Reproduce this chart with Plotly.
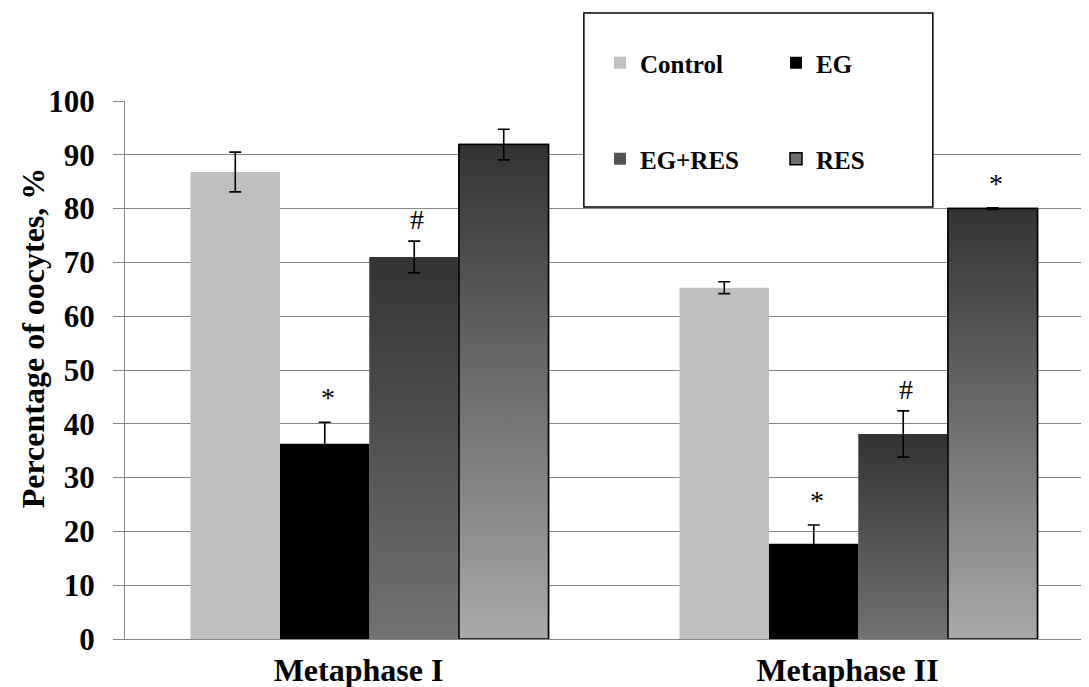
import plotly.graph_objects as go

# ---- data ----
categories = ["Metaphase I", "Metaphase II"]
series_names = ["Control", "EG", "EG+RES", "RES"]
control_vals = [86.8, 65.3]
eg_vals = [36.3, 17.7]
egres_vals = [71.0, 38.1]
res_vals = [91.9, 80.0]
control_err = [3.7, 1.1]
eg_err = [4.0, 3.5]
egres_err = [2.95, 4.3]
res_err = [2.85, 0.15]
# significance markers per series (one per category)
control_marks = ["", ""]
eg_marks = ["*", "*"]
egres_marks = ["#", "#"]
res_marks = ["", "*"]
y_ticks = [0, 10, 20, 30, 40, 50, 60, 70, 80, 90, 100]

# ---- styles ----
FONT = "Liberation Serif"
BAR_W = 0.183
GRID = "#878787"
PAGE_OFF = 8          # browser body margin
W, H = 1089 - PAGE_OFF, 687 - PAGE_OFF
styles = {
    "Control": dict(color="#c0c0c0", line=0, grad=None),
    "EG": dict(color="#000000", line=0, grad=None),
    "EG+RES": dict(color="#555555", line=0, grad=("#727272", "#333333")),
    "RES": dict(color="#6e6e6e", line=1.5, grad=("#a9a9a9", "#333333")),
}

values = [control_vals, eg_vals, egres_vals, res_vals]
errors = [control_err, eg_err, egres_err, res_err]
marks = [control_marks, eg_marks, egres_marks, res_marks]
xcat = list(range(len(categories)))

fig = go.Figure()

# bars (legend + base geometry)
for i, (name, vals) in enumerate(zip(series_names, values)):
    st = styles[name]
    fig.add_trace(go.Bar(
        x=xcat, y=vals, name=name, width=BAR_W, offset=(i - 2) * BAR_W,
        marker=dict(color=st["color"], line=dict(color="black", width=st["line"])),
        legend="legend" if i < 2 else "legend2",
        hoverinfo="skip",
    ))

# gradient overlays for shaded series
for i, (name, vals) in enumerate(zip(series_names, values)):
    st = styles[name]
    if st["grad"] is None:
        continue
    for c, v in zip(xcat, vals):
        x0 = c + (i - 2) * BAR_W
        x1 = x0 + BAR_W
        fig.add_trace(go.Scatter(
            x=[x0, x1, x1, x0, x0], y=[0, 0, v, v, 0], mode="lines",
            fill="toself",
            fillgradient=dict(type="vertical",
                              colorscale=[[0, st["grad"][0]], [1, st["grad"][1]]]),
            line=dict(color="black" if st["line"] else "rgba(0,0,0,0)",
                      width=st["line"] if st["line"] else 0.1),
            showlegend=False, hoverinfo="skip",
        ))

# error bars
for i, (name, vals, errs) in enumerate(zip(series_names, values, errors)):
    centers = [c + (i - 1.5) * BAR_W for c in xcat]
    fig.add_trace(go.Scatter(
        x=centers, y=vals, mode="markers",
        marker=dict(size=1, color="rgba(0,0,0,0)"),
        error_y=dict(type="data", array=errs, visible=True,
                     color="black", thickness=1.6, width=6),
        showlegend=False, hoverinfo="skip",
    ))

# significance marks
annotations = []
for i, (vals, errs, mk) in enumerate(zip(values, errors, marks)):
    for c, v, e, m in zip(xcat, vals, errs, mk):
        if not m:
            continue
        off = 4.5 if m == "*" else 4.0
        annotations.append(dict(
            x=c + (i - 1.5) * BAR_W, y=v + e + off, xref="x", yref="y",
            text=m, showarrow=False, xshift=3, yanchor="middle",
            font=dict(family=FONT, size=28, color="black"),
        ))

# y-axis title
annotations.append(dict(
    x=-0.0954, y=0.559, xref="paper", yref="paper",
    xanchor="center", yanchor="middle",
    text="Percentage of oocytes, %", textangle=-90, showarrow=False,
    font=dict(family=FONT, size=32, color="black", weight="bold"),
))

legend_font = dict(family=FONT, size=25, color="black", weight="bold")


def cx(px):
    return (px - PAGE_OFF) / W


def cy(py):
    return 1 - (py - PAGE_OFF) / H


fig.update_layout(
    width=W, height=H,
    font=dict(family=FONT, color="black"),
    paper_bgcolor="white", plot_bgcolor="white",
    margin=dict(l=125 - PAGE_OFF, r=0, t=101 - PAGE_OFF, b=48, autoexpand=False),
    barmode="overlay",
    annotations=annotations,
    shapes=[dict(type="rect", xref="paper", yref="paper",
                 x0=0.476, x1=0.838, y0=0.803, y1=1.1635,
                 line=dict(color="black", width=1.5), fillcolor="white",
                 layer="above")],
    legend=dict(orientation="h", xref="container", yref="container",
                x=cx(600), y=cy(63), xanchor="left", yanchor="middle",
                entrywidth=131, bgcolor="rgba(0,0,0,0)", font=legend_font),
    legend2=dict(orientation="h", xref="container", yref="container",
                 x=cx(600), y=cy(159), xanchor="left", yanchor="middle",
                 entrywidth=131, bgcolor="rgba(0,0,0,0)", font=legend_font),
    xaxis=dict(range=[-0.5, -0.5 + 964 / 489], tickvals=xcat, ticktext=categories,
               showgrid=False, zeroline=False, showline=True, linecolor=GRID,
               linewidth=1.3, ticks="", ticklabelshift=-11, ticklabelstandoff=2,
               tickfont=dict(family=FONT, size=32, color="black", weight="bold")),
    yaxis=dict(range=[0, 100], tickvals=y_ticks, showgrid=True, gridcolor=GRID,
               gridwidth=1.3, zeroline=False, showline=True, linecolor=GRID,
               linewidth=1.3, ticks="outside", ticklen=11, tickcolor=GRID,
               tickwidth=1.3, ticklabelstandoff=12,
               tickfont=dict(family=FONT, size=31, color="black", weight="bold")),
)

fig.write_html("out.html")
